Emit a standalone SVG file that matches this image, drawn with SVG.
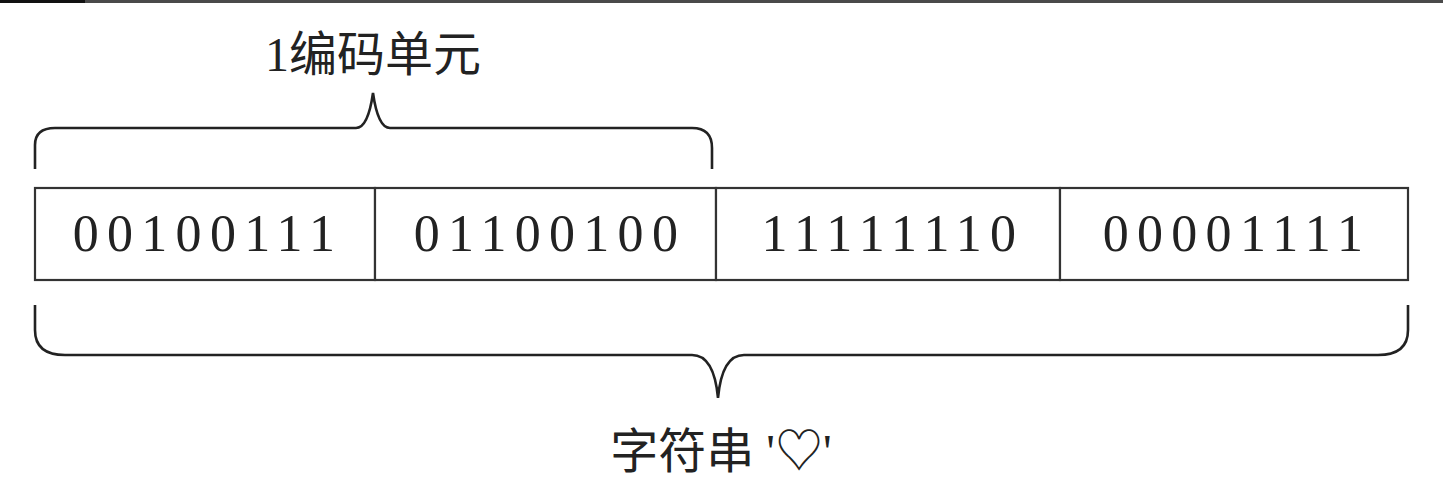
<svg xmlns="http://www.w3.org/2000/svg" width="1443" height="495" viewBox="0 0 1443 495">
<style>
.cell{fill:#fff;stroke:#333;stroke-width:2.2}
.bits{font-family:"Liberation Serif","DejaVu Serif",serif;font-size:52px;letter-spacing:8.3px;fill:#222;text-anchor:middle}
.lbl{font-family:"Liberation Serif","Noto Sans CJK SC",serif;font-size:48px;fill:#222;text-anchor:middle}
.brace{fill:none;stroke:#222;stroke-width:2.6}
</style>
<rect x="0" y="0" width="85" height="3" fill="#111"/>
<rect x="85" y="0" width="1358" height="3" fill="#4a4a4a"/>
<g id="label-top"><text class="lbl" x="373" y="71">1编码单元</text></g>
<g id="connectors">
<path id="brace-top" class="brace" d="M35,169 V145 Q35,128 55,128 H356 Q368,128 373,93 Q378,128 390,128 H692 Q712,128 712,148 V169"/>
<path id="brace-bottom" class="brace" d="M35,305 V330 Q35,355 65,355 H692 Q714,355 718,398 Q722,355 744,355 H1378 Q1408,355 1408,330 V305"/>
</g>
<g id="cell1"><rect class="cell" x="35" y="188" width="340" height="92"/><text class="bits" x="208" y="251">00100111</text></g>
<g id="cell2"><rect class="cell" x="375" y="188" width="341" height="92"/><text class="bits" x="550" y="251">01100100</text></g>
<g id="cell3"><rect class="cell" x="716" y="188" width="344" height="92"/><text class="bits" x="893" y="251">11111110</text></g>
<g id="cell4"><rect class="cell" x="1060" y="188" width="348" height="92"/><text class="bits" x="1237" y="251">00001111</text></g>
<g id="label-bottom"><text class="lbl" x="721" y="468">字符串 '♡'</text></g>
</svg>
